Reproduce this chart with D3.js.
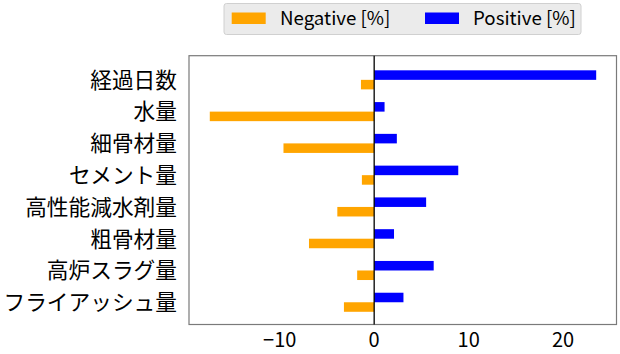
<!DOCTYPE html>
<html><head><meta charset="utf-8">
<script src="https://cdn.jsdelivr.net/npm/d3@7"></script>
<style>body{margin:0;background:#fff}svg{display:block}text{font-family:"Noto Sans CJK JP","Noto Sans",sans-serif}</style>
</head><body><svg id="c" width="620" height="354"></svg>
<script>
const categories = ["経過日数","水量","細骨材量","セメント量","高性能減水剤量","粗骨材量","高炉スラグ量","フライアッシュ量"];
const negativeValues = [-1.4,-17.4,-9.6,-1.3,-3.9,-6.9,-1.8,-3.2];
const positiveValues = [23.5,1.1,2.4,8.9,5.5,2.1,6.3,3.1];
const xTicks = [-10,0,10,20];
const seriesNames = ["Negative [%]","Positive [%]"];
const seriesColors = ["#FFA500","#0000FF"];

const svg = d3.select("#c");
const L=189, R=616.5, T=55.7, B=324.5;
const x = d3.scaleLinear().domain([-19.6,25.65]).range([L,R]);
const y = d3.scaleLinear().domain([-0.76,7.7]).range([T,B]);
const bh = 0.3;

svg.append("rect").attr("x",L).attr("y",T).attr("width",R-L).attr("height",B-T)
  .attr("fill","#fff").attr("stroke","#7a7a7a").attr("stroke-width",1.2);

const g = svg.append("g");
categories.forEach((c,i)=>{
  g.append("rect").attr("x",x(0)).attr("y",y(i-bh)).attr("width",x(positiveValues[i])-x(0))
    .attr("height",y(i)-y(i-bh)).attr("fill",seriesColors[1]);
  g.append("rect").attr("x",x(negativeValues[i])).attr("y",y(i)).attr("width",x(0)-x(negativeValues[i]))
    .attr("height",y(i+bh)-y(i)).attr("fill",seriesColors[0]);
  svg.append("text").attr("x",177).attr("y",y(i)).attr("dy","0.36em").attr("text-anchor","end")
    .attr("font-size",21.7).attr("fill","#000").text(c);
});
svg.append("line").attr("x1",x(0)).attr("x2",x(0)).attr("y1",T).attr("y2",B).attr("stroke","#000").attr("stroke-width",1.3);

xTicks.forEach(t=>{
  svg.append("text").attr("x",x(t)).attr("y",347).attr("text-anchor","middle").attr("font-size",20)
    .attr("fill","#000").text(t<0?"\u2212"+Math.abs(t):t);
});

// legend
const lg = svg.append("g");
lg.append("rect").attr("x",224).attr("y",3.5).attr("width",357).attr("height",31).attr("rx",2.5)
  .attr("fill","#ebebeb").attr("stroke","#d0d0d0").attr("stroke-width",1);
const lx=[231.7,425], tx=[280,473];
seriesNames.forEach((n,i)=>{
  lg.append("rect").attr("x",lx[i]).attr("y",12.5).attr("width",34).attr("height",11.5).attr("fill",seriesColors[i]);
  lg.append("text").attr("x",tx[i]).attr("y",18.5).attr("dy","0.36em").attr("font-size",18.7).attr("fill","#000").text(n);
});
</script></body></html>
